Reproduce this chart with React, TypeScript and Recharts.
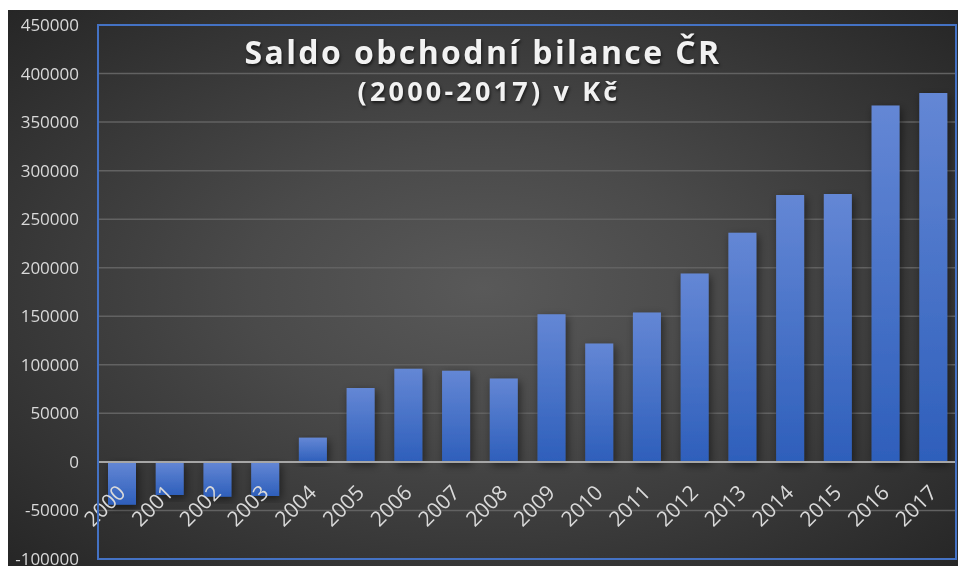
import { BarChart, Bar, XAxis, YAxis, CartesianGrid, ReferenceLine } from "recharts";

const years = ["2000", "2001", "2002", "2003", "2004", "2005", "2006", "2007", "2008", "2009", "2010", "2011", "2012", "2013", "2014", "2015", "2016", "2017"];
const saldo = [-44000, -34000, -36000, -35000, 25000, 76000, 96000, 94000, 86000, 152000, 122000, 154000, 194000, 236000, 275000, 276000, 367000, 380000];
const yTicks = [-100000, -50000, 0, 50000, 100000, 150000, 200000, 250000, 300000, 350000, 400000, 450000];

const data = years.map((year, i) => ({ year, saldo: saldo[i] }));

const W = 950;
const H = 556;
const M = { top: 15, right: 1, bottom: 6, left: 0 };
const Y_W = 90;
const X_H = 1;
const PLOT_H = H - M.top - M.bottom - X_H;
const Y_MIN = -100000;
const Y_MAX = 450000;
// distance from plot bottom up to the zero line
const ZERO_UP = (PLOT_H * (0 - Y_MIN)) / (Y_MAX - Y_MIN);

const YearTick = (props: any) => {
  const { x, y, payload } = props;
  const ax = x + 5;
  const ay = y - ZERO_UP + 32;
  return (
    <g transform={`translate(${ax},${ay}) rotate(-45)`}>
      <text x={0} y={0} textAnchor="end" fill="#d9d9d9" fontSize={21} fontFamily="'Open Sans', sans-serif">
        {payload.value}
      </text>
    </g>
  );
};

export default function App() {
  return (
    <div
      style={{
        position: "fixed",
        left: 8,
        top: 10,
        width: W,
        height: H,
        background: "radial-gradient(ellipse at 50% 50%, #595959 0%, #4a4a4a 35%, #262626 100%)",
        fontFamily: "'Open Sans', sans-serif",
      }}
    >
      <BarChart width={W} height={H} data={data} margin={M} barSize={28}>
        <defs>
          <linearGradient id="barFill" x1="0" y1="0" x2="0" y2="1">
            <stop offset="0%" stopColor="#6487d5" />
            <stop offset="100%" stopColor="#2e5fbb" />
          </linearGradient>
          <filter id="barShadow" x="-40%" y="-10%" width="180%" height="130%">
            <feDropShadow dx="2" dy="3" stdDeviation="4" floodColor="#000" floodOpacity="0.5" />
          </filter>
        </defs>
        <CartesianGrid vertical={false} stroke="#626262" strokeWidth={1.5} />
        <XAxis
          dataKey="year"
          height={X_H}
          axisLine={false}
          tickLine={false}
          tickSize={0}
          tickMargin={0}
          interval={0}
          tick={<YearTick />}
        />
        <YAxis
          width={Y_W}
          domain={[Y_MIN, Y_MAX]}
          ticks={yTicks}
          interval={0}
          axisLine={false}
          tickLine={false}
          tickSize={0}
          tickMargin={19}
          tick={{ fill: "#d9d9d9", fontSize: 17, fontFamily: "'Open Sans', sans-serif" }}
        />
        <Bar dataKey="saldo" fill="url(#barFill)" filter="url(#barShadow)" isAnimationActive={false} />
        <ReferenceLine y={0} stroke="#a6a6a6" strokeWidth={2} />
      </BarChart>
      <div
        style={{
          position: "absolute",
          left: Y_W + M.left - 1,
          top: M.top - 1,
          width: W - Y_W - M.left - M.right + 1,
          height: PLOT_H + 2,
          border: "2px solid #4472c4",
          boxSizing: "border-box",
          pointerEvents: "none",
        }}
      />
      <div
        style={{
          position: "absolute",
          left: 0,
          width: 950,
          top: 21,
          textAlign: "center",
          color: "#f2f2f2",
          fontWeight: 700,
          textShadow: "1px 2px 3px rgba(0,0,0,0.6)",
          pointerEvents: "none",
          fontSize: 32,
          letterSpacing: 2.4,
          lineHeight: "42px",
        }}
      >
        Saldo obchodní bilance ČR
      </div>
      <div
        style={{
          position: "absolute",
          left: 0,
          width: 962,
          top: 63,
          textAlign: "center",
          color: "#f2f2f2",
          fontWeight: 700,
          textShadow: "1px 2px 3px rgba(0,0,0,0.6)",
          pointerEvents: "none",
          fontSize: 27,
          letterSpacing: 3.2,
          lineHeight: "36px",
        }}
      >
        (2000-2017) v Kč
      </div>
    </div>
  );
}
